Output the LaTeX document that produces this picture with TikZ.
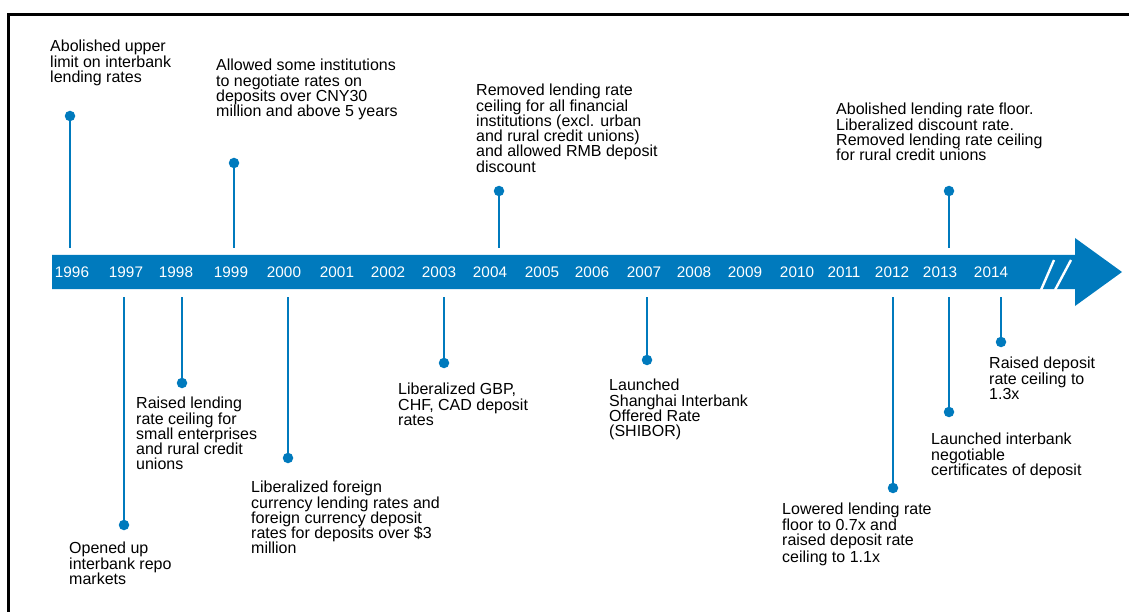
\documentclass[tikz,border=0pt]{standalone}
\usepackage{fontspec}
\setmainfont{Liberation Sans}
\definecolor{barblue}{RGB}{0,122,189}
\tikzset{
  event/.style={anchor=north west,inner sep=0pt,align=left,text=black,
    font=\fontsize{16}{15.3}\selectfont},
  year/.style={text=white,inner sep=0pt,font=\fontsize{15.3}{16}\selectfont},
  evdot/.style={circle,fill=barblue,inner sep=0pt,minimum size=10.5pt},
  stemline/.style={draw=barblue,line width=2.8pt}
}
\begin{document}
\begin{tikzpicture}[x=1pt,y=-1pt]
  \useasboundingbox (0,0) rectangle (1129,612);
  \draw[line width=2.4pt] (8.5,612) -- (8.5,14.5) -- (1129,14.5);
  % the time axis
  \fill[barblue] (52,255) -- (1075,255) -- (1075,238) -- (1122,272)
    -- (1075,306) -- (1075,289) -- (52,289) -- cycle;
  \coordinate (barN) at (52,255);
  \coordinate (barS) at (52,289);
  \draw[white,line width=2.4pt] (1041,290) -- (1054,260) (1055,290) -- (1071,260);
  \foreach \yr/\x in {1996/72,1997/126,1998/176,1999/231,2000/284,2001/337,
    2002/388,2003/439,2004/490,2005/542,2006/592,2007/644,2008/694,2009/745,
    2010/797,2011/844,2012/892,2013/940,2014/991}
    \node[year] (y\yr) at (\x,272) {\yr};

  % events above the axis
  \node[evdot] (d1996) at (70,116) {};
  \node[event] (t1996) at (50,40) {Abolished upper\\limit on interbank\\lending rates};
  \node[evdot] (d1999) at (234,163) {};
  \node[event] (t1999) at (216,59) {Allowed some institutions\\to negotiate rates on\\deposits over CNY30\\million and above 5 years};
  \node[evdot] (d2004) at (499,191) {};
  \node[event] (t2004) at (476,84) {Removed lending rate\\ceiling for all financial\\institutions (excl. urban\\and rural credit unions)\\and allowed RMB deposit\\discount};
  \node[evdot] (d2013a) at (949,191) {};
  \node[event] (t2013a) at (836,103) {Abolished lending rate floor.\\Liberalized discount rate.\\Removed lending rate ceiling\\for rural credit unions};
  \foreach \e in {d1996,d1999,d2004,d2013a}
    \draw[stemline,shorten >=7pt] (\e) -- (\e |- barN);

  % events below the axis
  \node[evdot] (d1997) at (124,525) {};
  \node[event] (t1997) at (69,542) {Opened up\\interbank repo\\markets};
  \node[evdot] (d1998) at (182,383) {};
  \node[event] (t1998) at (136,397) {Raised lending\\rate ceiling for\\small enterprises\\and rural credit\\unions};
  \node[evdot] (d2000) at (288,458) {};
  \node[event] (t2000) at (251,481) {Liberalized foreign\\currency lending rates and\\foreign currency deposit\\rates for deposits over \$3\\million};
  \node[evdot] (d2003) at (444,363) {};
  \node[event] (t2003) at (398,383) {Liberalized GBP,\\CHF, CAD deposit\\rates};
  \node[evdot] (d2007) at (647,360) {};
  \node[event] (t2007) at (609,379) {Launched\\Shanghai Interbank\\Offered Rate\\(SHIBOR)};
  \node[evdot] (d2012) at (893,488) {};
  \node[event] (t2012) at (782,503) {Lowered lending rate\\floor to 0.7x and\\raised deposit rate\\[2pt]ceiling to 1.1x};
  \node[evdot] (d2013b) at (949,412) {};
  \node[event] (t2013b) at (931,433) {Launched interbank\\negotiable\\certificates of deposit};
  \node[evdot] (d2014) at (1001,342) {};
  \node[event] (t2014) at (989,357) {Raised deposit\\rate ceiling to\\1.3x};
  \foreach \e in {d1997,d1998,d2000,d2003,d2007,d2012,d2013b,d2014}
    \draw[stemline,shorten >=8pt] (\e) -- (\e |- barS);
\end{tikzpicture}
\end{document}
